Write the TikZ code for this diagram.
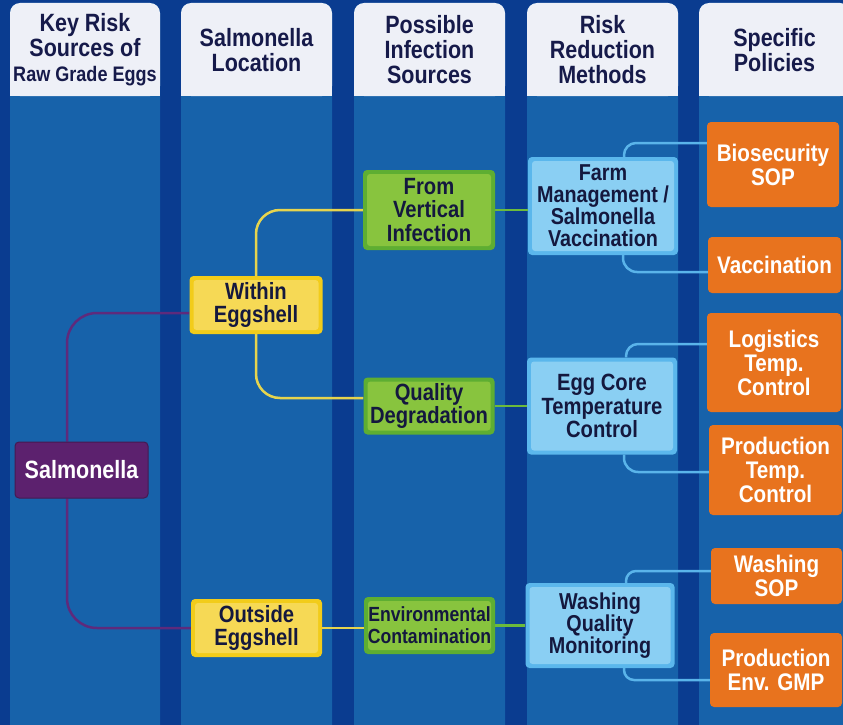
\documentclass[tikz,border=0pt]{standalone}
\usepackage{fontspec}
\setmainfont{Liberation Sans}[FakeStretch=0.86]
\usepackage{tikz}

\definecolor{navybg}{HTML}{0A3C90}
\definecolor{panelblue}{HTML}{1762AA}
\definecolor{headwhite}{HTML}{EEF0F7}
\definecolor{headtext}{HTML}{161A4A}
\definecolor{darktext}{HTML}{14183E}
\definecolor{salpurple}{HTML}{5C216E}
\definecolor{linepurple}{HTML}{5E2A7C}
\definecolor{eggyellow}{HTML}{F2CC1A}
\definecolor{eggyellowin}{HTML}{F6D955}
\definecolor{srcgreen}{HTML}{5EAE32}
\definecolor{srcgreenin}{HTML}{88C43E}
\definecolor{methblue}{HTML}{5BB7EC}
\definecolor{methbluein}{HTML}{8ACFF3}
\definecolor{polorange}{HTML}{E8731E}
\definecolor{lineyellow}{HTML}{E6D44E}
\definecolor{linegreen}{HTML}{6CBB3C}
\definecolor{lineblue}{HTML}{5AB4EA}

\pgfdeclarelayer{background}
\pgfdeclarelayer{links}
\pgfsetlayers{background,links,main}

\tikzset{
    head/.style={align=center, inner sep=0pt, text=headtext, font=\fontsize{25}{25}\selectfont\bfseries},
    box/.style={rounded corners=4pt, inner sep=0pt, align=center, font=\fontsize{23.5}{23.5}\selectfont\bfseries},
    inset/.style={path picture={\fill[#1, rounded corners=3pt]
        ([shift={(4pt,-4pt)}]path picture bounding box.north west) rectangle
        ([shift={(-4pt,4pt)}]path picture bounding box.south east);}},
    rootbox/.style={box, fill=salpurple, draw=salpurple!75!black, line width=1pt, text=white, font=\fontsize{25}{26}\selectfont\bfseries},
    locbox/.style={box, fill=eggyellow, inset=eggyellowin, text=darktext},
    srcbox/.style={box, fill=srcgreen, inset=srcgreenin, text=darktext},
    methbox/.style={box, fill=methblue, inset=methbluein, text=darktext},
    polbox/.style={box, fill=polorange, text=white, font=\fontsize{24}{24}\selectfont\bfseries},
    link/.style={line width=2.5pt},
}

\begin{document}
\begin{tikzpicture}[x=1pt, y=-1pt]

\useasboundingbox (0,0) rectangle (843,725);
\clip (0,0) rectangle (843,725);

% Column panel with white header
% Usage: \colpanel{x-left}{x-right}{name}{header text}
\newcommand{\colpanel}[4]{
    \fill[panelblue, rounded corners=10pt] (#1,3) rectangle (#2,740);
    \fill[headwhite, rounded corners=10pt] (#1,3) rectangle (#2,96);
    \fill[headwhite] (#1,50) rectangle (#2,96);
    \node[head] (#3) at ({(#1+#2)/2},50) {#4};
}

% --- Background and columns ---
\begin{pgfonlayer}{background}
\fill[navybg] (0,0) rectangle (843,725);
\colpanel{10}{160}{hkey}{Key Risk\\Sources of\\{\fontsize{21}{25}\selectfont Raw Grade Eggs}}
\colpanel{181}{332}{hloc}{Salmonella\\Location}
\colpanel{354}{505}{hsrc}{Possible\\Infection\\Sources}
\colpanel{527}{678}{hmeth}{Risk\\Reduction\\Methods}
\colpanel{699}{850}{hpol}{Specific\\Policies}
\end{pgfonlayer}

% --- Column 1 ---
\node[rootbox, minimum width=133pt, minimum height=56pt] (sal) at (81.5,470) {Salmonella};

% --- Column 2 ---
\node[locbox, minimum width=133pt, minimum height=58pt] (within) at (256,305) {Within\\Eggshell};
\node[locbox, minimum width=131pt, minimum height=58pt] (outside) at (256.5,628) {Outside\\Eggshell};

% --- Column 3 ---
\node[srcbox, minimum width=132pt, minimum height=80pt] (vertical) at (429,210) {From\\Vertical\\Infection};
\node[srcbox, minimum width=131pt, minimum height=57pt] (quality) at (429,406) {Quality\\Degradation};
\node[srcbox, minimum width=131pt, minimum height=57pt, font=\fontsize{20.5}{22}\selectfont\bfseries] (environ) at (429.5,625.5) {Environmental\\Contamination};

% --- Column 4 ---
\node[methbox, minimum width=150pt, minimum height=98pt, font=\fontsize{23}{22}\selectfont\bfseries] (farm) at (603,206) {Farm\\Management /\\Salmonella\\Vaccination};
\node[methbox, minimum width=150pt, minimum height=97pt] (eggcore) at (602,406) {Egg Core\\Temperature\\Control};
\node[methbox, minimum width=149pt, minimum height=85pt, font=\fontsize{23}{22}\selectfont\bfseries] (washing) at (600,625.5) {Washing\\Quality\\Monitoring};

% --- Column 5 ---
\node[polbox, minimum width=132pt, minimum height=85pt] (biosec) at (773,164.5) {Biosecurity\\SOP};
\node[polbox, minimum width=133pt, minimum height=56pt] (vaccin) at (774.5,265) {Vaccination};
\node[polbox, minimum width=134pt, minimum height=99pt] (logist) at (774,362.5) {Logistics\\Temp.\\Control};
\node[polbox, minimum width=133pt, minimum height=90pt] (prodtemp) at (775.5,470) {Production\\Temp.\\Control};
\node[polbox, minimum width=131pt, minimum height=56pt] (washsop) at (776.5,576) {Washing\\SOP};
\node[polbox, minimum width=132pt, minimum height=74pt] (prodenv) at (776,670) {Production\\Env. GMP};

% --- Connectors ---
\begin{pgfonlayer}{links}
\draw[link, linepurple, rounded corners=30pt] ([xshift=-14.5pt]sal.north) |- ([yshift=-8pt]within.west);
\draw[link, linepurple, rounded corners=30pt] ([xshift=-14.5pt]sal.south) |- (outside.west);

\draw[link, lineyellow, rounded corners=24pt] (within.north) |- (vertical.west);
\draw[link, lineyellow, rounded corners=24pt] (within.south) |- ([yshift=8pt]quality.west);
\draw[link, lineyellow] (outside.east) -- (outside.east -| environ.west);

\draw[link, linegreen] (vertical.east) -- (vertical.east -| farm.west);
\draw[link, linegreen] (quality.east) -- (quality.east -| eggcore.west);
\draw[link, linegreen] (environ.east) -- (environ.east -| washing.west);

\draw[link, lineblue, rounded corners=12pt] ([xshift=21pt]farm.north) |- ([yshift=21.5pt]biosec.west);
\draw[link, lineblue, rounded corners=14pt] ([xshift=20pt]farm.south) |- ([yshift=-7pt]vaccin.west);
\draw[link, lineblue, rounded corners=12pt] ([xshift=24pt]eggcore.north) |- ([yshift=18.5pt]logist.west);
\draw[link, lineblue, rounded corners=14pt] ([xshift=22pt]eggcore.south) |- ([yshift=-2pt]prodtemp.west);
\draw[link, lineblue, rounded corners=10pt] ([xshift=26pt]washing.north) |- ([yshift=5pt]washsop.west);
\draw[link, lineblue, rounded corners=10pt] ([xshift=24pt]washing.south) |- ([yshift=-10pt]prodenv.west);
\end{pgfonlayer}

\end{tikzpicture}
\end{document}
